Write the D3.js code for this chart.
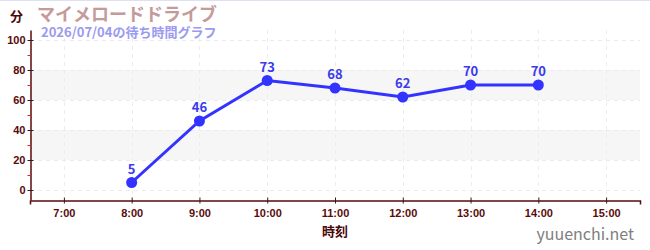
<!DOCTYPE html>
<html>
<head>
<meta charset="utf-8">
<script src="https://cdn.jsdelivr.net/npm/d3@7"></script>
<style>
  body { margin: 0; background: #fff; }
  svg { display: block; font-family: "Noto Sans CJK JP", "Noto Sans", sans-serif; }
</style>
</head>
<body>
<div id="chart"></div>
<script>
// waiting times per hour
var hours = [8, 9, 10, 11, 12, 13, 14];
var waits = [5, 46, 73, 68, 62, 70, 70];
var xTicks = [7, 8, 9, 10, 11, 12, 13, 14, 15];
var yTicks = [0, 20, 40, 60, 80, 100];
var yMinor = [10, 30, 50, 70, 90];
var bands = [[20, 40], [60, 80]];

var W = 650, H = 250;
var padL = 30, padR = 640, padT = 30, padB = 200;

var svg = d3.select("#chart").append("svg").attr("width", W).attr("height", H);

svg.append("line")
  .attr("x1", 0).attr("x2", W).attr("y1", 0.5).attr("y2", 0.5)
  .attr("stroke", "#e0e0f4").attr("stroke-width", 1);

var x = d3.scaleLinear().domain([6.5, 15.5]).range([padL, padR]);
var y = d3.scaleLinear().domain([-20 / 3, 320 / 3]).range([padB, padT]);

// shaded bands
svg.selectAll("rect.band").data(bands).enter().append("rect")
  .attr("class", "band")
  .attr("x", padL).attr("width", padR - padL)
  .attr("y", function (d) { return y(d[1]); })
  .attr("height", function (d) { return y(d[0]) - y(d[1]); })
  .attr("fill", "#f6f6f6");

// grid
svg.selectAll("line.hg").data(yTicks).enter().append("line")
  .attr("x1", padL).attr("x2", padR)
  .attr("y1", function (d) { return Math.round(y(d)) + 0.5; })
  .attr("y2", function (d) { return Math.round(y(d)) + 0.5; })
  .attr("stroke", "#ebebeb").attr("stroke-dasharray", "4,4");
svg.selectAll("line.vg").data(xTicks).enter().append("line")
  .attr("y1", padT).attr("y2", padB)
  .attr("x1", function (d) { return Math.round(x(d)) + 0.5; })
  .attr("x2", function (d) { return Math.round(x(d)) + 0.5; })
  .attr("stroke", "#ededed").attr("stroke-dasharray", "4,4");

var axisColor = "#5a0a0a";

// y axis
var yAxis = svg.append("g").attr("transform", "translate(" + (padL + 0.5) + ",0)")
  .call(d3.axisLeft(y).tickValues(yTicks).tickSize(5).tickSizeOuter(0).tickPadding(3));
yAxis.select(".domain").attr("stroke", axisColor).attr("stroke-width", 1.5);
yAxis.selectAll(".tick line").attr("stroke", "#222").attr("x2", 3).attr("x1", -3);
yAxis.selectAll(".tick text").attr("fill", axisColor)
  .style("font-size", "11px").style("font-weight", "bold").attr("x", -5);
yAxis.selectAll("line.minor").data(yMinor).enter().append("line")
  .attr("class", "minor")
  .attr("x1", -3).attr("x2", 0)
  .attr("y1", function (d) { return Math.round(y(d)) + 0.5; })
  .attr("y2", function (d) { return Math.round(y(d)) + 0.5; })
  .attr("stroke", "#e02020");

// x axis
var xAxis = svg.append("g").attr("transform", "translate(0," + (padB + 0.5) + ")")
  .call(d3.axisBottom(x).tickValues(xTicks).tickSizeOuter(0).tickSize(4).tickPadding(5)
    .tickFormat(function (d) { return d + ":00"; }));
xAxis.select(".domain").attr("stroke", axisColor).attr("stroke-width", 1.5);
xAxis.selectAll(".tick line").attr("stroke", "#222").attr("y1", -3).attr("y2", 3);
xAxis.selectAll(".tick text").attr("fill", axisColor)
  .style("font-size", "11px").style("font-weight", "bold");

// line + points
var pts = hours.map(function (h, i) { return [h, waits[i]]; });
var line = d3.line().x(function (d) { return x(d[0]); }).y(function (d) { return y(d[1]); });
svg.append("path").datum(pts)
  .attr("d", line).attr("fill", "none")
  .attr("stroke", "#3333ff").attr("stroke-width", 3);
svg.selectAll("circle.pt").data(pts).enter().append("circle")
  .attr("class", "pt")
  .attr("cx", function (d) { return x(d[0]); })
  .attr("cy", function (d) { return y(d[1]); })
  .attr("r", 5.5).attr("fill", "#3333ff");
svg.selectAll("text.val").data(pts).enter().append("text")
  .attr("class", "val")
  .attr("x", function (d) { return x(d[0]); })
  .attr("y", function (d) { return y(d[1]) - 9; })
  .attr("text-anchor", "middle")
  .attr("fill", "#3a3aee")
  .style("font-size", "13px").style("font-weight", "bold")
  .text(function (d) { return d[1]; });

// titles
svg.append("text").attr("x", 10).attr("y", 21)
  .attr("fill", "#4a0808").style("font-size", "13px").style("font-weight", "bold")
  .text("分");
svg.append("text").attr("x", 37).attr("y", 21)
  .attr("fill", "#c49a9a").style("font-size", "18px").style("font-weight", "bold")
  .text("マイメロードドライブ");
svg.append("text").attr("x", 41).attr("y", 37)
  .attr("fill", "#9a9af0").style("font-size", "13px").style("font-weight", "bold")
  .text("2026/07/04の待ち時間グラフ");
svg.append("text").attr("x", (padL + padR) / 2).attr("y", 236)
  .attr("text-anchor", "middle")
  .attr("fill", "#4a0808").style("font-size", "13px").style("font-weight", "bold")
  .text("時刻");
svg.append("text").attr("x", 634).attr("y", 240)
  .attr("text-anchor", "end")
  .attr("fill", "#808080").style("font-size", "16px")
  .text("yuuenchi.net");
</script>
</body>
</html>
